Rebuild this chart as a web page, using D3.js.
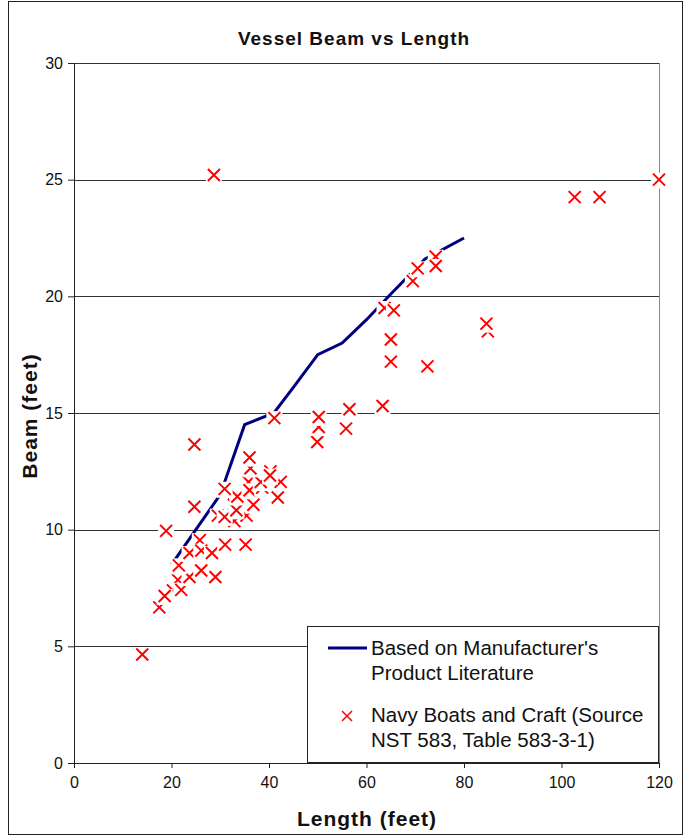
<!DOCTYPE html>
<html>
<head>
<meta charset="utf-8">
<script src="https://cdn.jsdelivr.net/npm/d3@7"></script>
<style>
  body { margin: 0; background: #fff; }
  text { font-family: Arial, "Liberation Sans", sans-serif; fill: #111; }
</style>
</head>
<body>
<div id="chart"></div>
<script>
// manufacturer's literature curve (length, beam)
let lineLength = [20, 25, 30, 35, 41, 45, 50, 55, 60, 65, 72, 80]
let lineBeam   = [8.5, 10, 11.5, 14.5, 15, 16.1, 17.5, 18, 19, 20.1, 21.6, 22.5]

// navy boats - partly hidden markers first, then the full ones
let navyLength = [21.3, 20.3, 25.8, 29.5, 35.8, 42.4, 40.3, 63.7, 74.2, 84.9, 32.8,
    14.0, 17.5, 18.6, 22.0, 23.7, 29.0, 26.1, 21.5, 23.7, 26.1, 28.3, 31.0, 35.2,
    18.9, 32.9, 30.9, 35.4, 33.3, 24.7, 36.8, 33.5, 41.8, 36.0, 30.9, 38.6, 38.3,
    40.2, 36.2, 36.0, 24.7, 49.9, 50.2, 50.2, 55.8, 56.5, 41.1, 63.3, 72.5, 65.0,
    65.0, 65.6, 84.6, 69.5, 70.5, 74.2, 28.7, 102.7, 107.8, 120]
let navyBeam = [7.85, 7.4, 9.55, 10.6, 12.04, 12.05, 12.5, 19.5, 21.7, 18.5, 11.07,
    4.65, 6.67, 7.16, 7.42, 7.97, 7.97, 8.25, 8.47, 9.0, 9.1, 9.0, 9.36, 9.36,
    9.95, 10.37, 10.55, 10.6, 10.83, 10.98, 11.07, 11.42, 11.38, 11.69, 11.75, 11.8, 12.04,
    12.32, 12.63, 13.09, 13.65, 13.76, 14.4, 14.83, 14.33, 15.16, 14.78, 15.3, 17.0, 17.2,
    18.15, 19.4, 18.83, 20.65, 21.2, 21.3, 25.2, 24.25, 24.25, 25.0]

let xTicks = [0, 20, 40, 60, 80, 100, 120]
let yTicks = [0, 5, 10, 15, 20, 25, 30]

let width = 684, height = 836
let margin = {top: 63, right: 25, bottom: 73, left: 74}
let w = width - margin.left - margin.right
let h = height - margin.top - margin.bottom

let svg = d3.select('#chart').append('svg')
    .attr('width', width)
    .attr('height', height)

// outer chart border
svg.append('rect')
    .attr('x', 8.5).attr('y', 1.5)
    .attr('width', 674).attr('height', 833)
    .attr('fill', 'none').attr('stroke', '#222').attr('stroke-width', 1)

let g = svg.append('g')
    .attr('transform', 'translate(' + margin.left + ',' + margin.top + ')')

let x = d3.scaleLinear().domain([0, 120]).range([0, w])
let y = d3.scaleLinear().domain([0, 30]).range([h, 0])

// gridlines
g.selectAll('.grid')
    .data(yTicks.filter(d => d > 0))
    .enter().append('line')
    .attr('x1', 0).attr('x2', w)
    .attr('y1', d => Math.round(y(d)) + 0.5)
    .attr('y2', d => Math.round(y(d)) + 0.5)
    .attr('stroke', '#333').attr('stroke-width', 1)

// right edge of plot area
g.append('line')
    .attr('x1', w + 0.5).attr('x2', w + 0.5)
    .attr('y1', 0).attr('y2', h)
    .attr('stroke', '#888')

let xAxis = d3.axisBottom(x).tickValues(xTicks).tickSize(5).tickPadding(9)
let yAxis = d3.axisLeft(y).tickValues(yTicks).tickSize(6).tickPadding(5)

g.append('g')
    .attr('transform', 'translate(0,' + h + ')')
    .call(xAxis)
g.append('g')
    .call(yAxis)

g.selectAll('.domain, .tick line').attr('stroke', '#222')
g.selectAll('.tick text')
    .style('font-size', '16px')
    .style('font-family', 'Arial, "Liberation Sans", sans-serif')
    .attr('fill', '#111')

// manufacturer curve
let line = d3.line()
    .x((d, i) => x(lineLength[i]))
    .y(d => y(d))

g.append('path')
    .datum(lineBeam)
    .attr('d', line)
    .attr('fill', 'none')
    .attr('stroke', '#000080')
    .attr('stroke-width', 3)

// navy boat markers, each with a white box behind it
let marks = g.selectAll('.mark')
    .data(navyBeam)
    .enter().append('g')
    .attr('transform', (d, i) => 'translate(' + x(navyLength[i]) + ',' + y(d) + ')')

marks.append('rect')
    .attr('x', -8).attr('y', -7)
    .attr('width', 16).attr('height', 16)
    .attr('fill', '#fff')
marks.append('path')
    .attr('d', 'M-6,-6L6,6M-6,6L6,-6')
    .attr('stroke', '#ff0000')
    .attr('stroke-width', 2)
    .attr('fill', 'none')

// title and axis titles
svg.append('text')
    .attr('x', 354).attr('y', 45)
    .attr('text-anchor', 'middle')
    .style('font-size', '19px').style('font-weight', 'bold')
    .style('letter-spacing', '1px')
    .text('Vessel Beam vs Length')

svg.append('text')
    .attr('x', 367).attr('y', 826)
    .attr('text-anchor', 'middle')
    .style('font-size', '21px').style('font-weight', 'bold')
    .style('letter-spacing', '1px')
    .text('Length (feet)')

svg.append('text')
    .attr('transform', 'translate(37,416) rotate(-90)')
    .attr('text-anchor', 'middle')
    .style('font-size', '21px').style('font-weight', 'bold')
    .style('letter-spacing', '1px')
    .text('Beam (feet)')

// legend
let legend = svg.append('g').attr('transform', 'translate(307,626)')
legend.append('rect')
    .attr('x', 0.5).attr('y', 0.5)
    .attr('width', 351).attr('height', 136)
    .attr('fill', '#fff').attr('stroke', '#222')

legend.append('line')
    .attr('x1', 21).attr('x2', 60)
    .attr('y1', 22).attr('y2', 22)
    .attr('stroke', '#000080').attr('stroke-width', 3)

legend.append('path')
    .attr('transform', 'translate(40,90)')
    .attr('d', 'M-5,-5L5,5M-5,5L5,-5')
    .attr('stroke', '#ff0000').attr('stroke-width', 1.5)

let legendLines = [
    ["Based on Manufacturer's", 29],
    ['Product Literature', 54],
    ['Navy Boats and Craft (Source', 96],
    ['NST 583, Table 583-3-1)', 121]
]
legend.selectAll('.lt')
    .data(legendLines)
    .enter().append('text')
    .attr('x', 64)
    .attr('y', d => d[1])
    .style('font-size', '20.5px')
    .text(d => d[0])
</script>
</body>
</html>
